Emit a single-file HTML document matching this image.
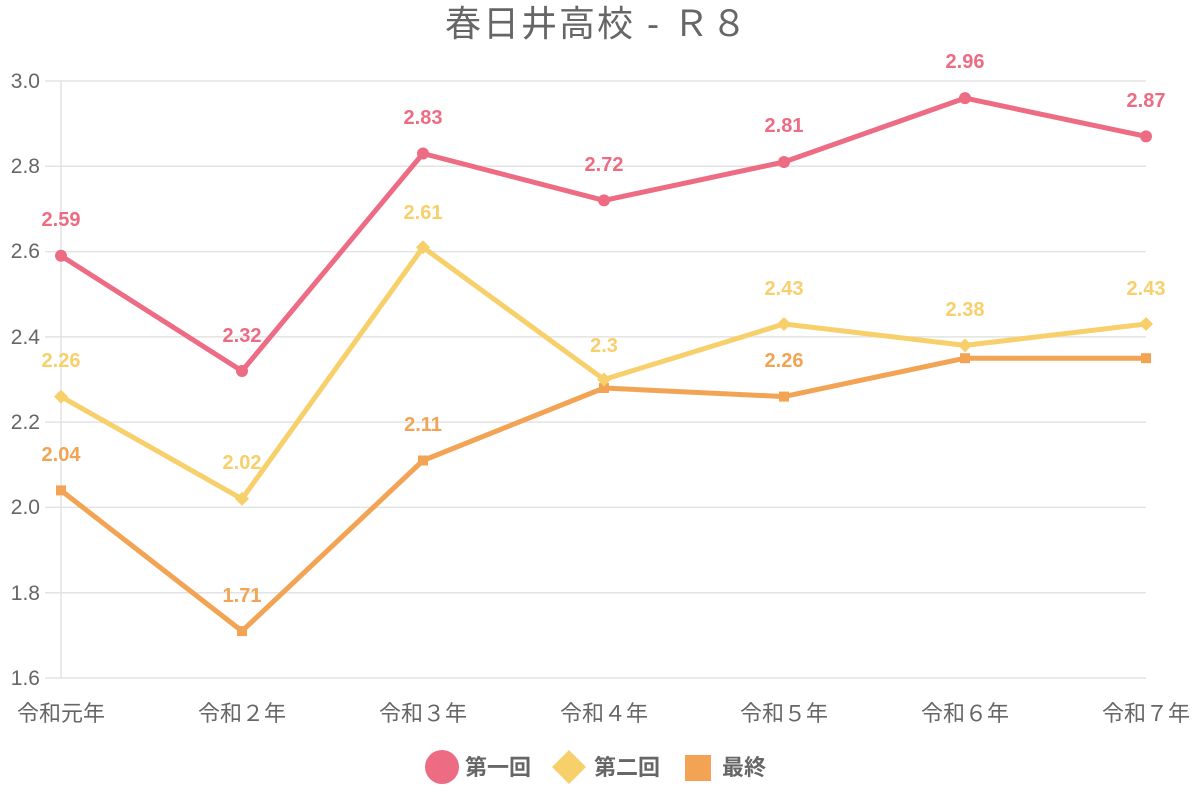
<!DOCTYPE html>
<html><head><meta charset="utf-8"><style>
body{margin:0;background:#fff}
svg{display:block;font-family:"Liberation Sans","Noto Sans CJK JP",sans-serif}
</style></head><body>
<svg width="1200" height="800" viewBox="0 0 1200 800">
<text x="597" y="36" text-anchor="middle" font-size="36" letter-spacing="2" fill="#666">春日井高校 - Ｒ８</text>
<g stroke="#e3e3e3" stroke-width="1.5">
<line x1="45" x2="1146" y1="81" y2="81"/><line x1="45" x2="1146" y1="166.3" y2="166.3"/>
<line x1="45" x2="1146" y1="251.6" y2="251.6"/><line x1="45" x2="1146" y1="336.9" y2="336.9"/>
<line x1="45" x2="1146" y1="422.1" y2="422.1"/><line x1="45" x2="1146" y1="507.4" y2="507.4"/>
<line x1="45" x2="1146" y1="592.7" y2="592.7"/><line x1="45" x2="1146" y1="678" y2="678"/>
<line x1="61" x2="61" y1="81" y2="678"/>
</g>
<g font-size="21" fill="#666" text-anchor="end">
<text x="40" y="88">3.0</text><text x="40" y="173">2.8</text><text x="40" y="258">2.6</text>
<text x="40" y="344">2.4</text><text x="40" y="429">2.2</text><text x="40" y="514">2.0</text>
<text x="40" y="600">1.8</text><text x="40" y="685">1.6</text>
</g>
<g font-size="22" fill="#666" text-anchor="middle">
<text x="61" y="721">令和元年</text><text x="242" y="721">令和２年</text><text x="423" y="721">令和３年</text>
<text x="604" y="721">令和４年</text><text x="784" y="721">令和５年</text><text x="965" y="721">令和６年</text>
<text x="1146" y="721">令和７年</text>
</g>
<g fill="none" stroke-width="5" stroke-linejoin="round">
<polyline stroke="#f2a354" points="61,490.4 242,631.1 423,460.5 604,388 784,396.6 965,358.2 1146,358.2"/>
<polyline stroke="#f7cf6b" points="61,396.6 242,498.9 423,247.3 604,379.5 784,324 965,345.4 1146,324"/>
<polyline stroke="#ee6b84" points="61,255.8 242,371 423,153.5 604,200.4 784,162 965,98.1 1146,136.4"/>
</g>
<g fill="#f2a354">
<rect x="56" y="485.4" width="10" height="10"/><rect x="237" y="626.1" width="10" height="10"/>
<rect x="418" y="455.5" width="10" height="10"/><rect x="599" y="383" width="10" height="10"/>
<rect x="779" y="391.6" width="10" height="10"/><rect x="960" y="353.2" width="10" height="10"/>
<rect x="1141" y="353.2" width="10" height="10"/>
</g>
<g fill="#f7cf6b">
<path d="M61,389.6l7,7l-7,7l-7,-7z"/><path d="M242,491.9l7,7l-7,7l-7,-7z"/>
<path d="M423,240.3l7,7l-7,7l-7,-7z"/><path d="M604,372.5l7,7l-7,7l-7,-7z"/>
<path d="M784,317l7,7l-7,7l-7,-7z"/><path d="M965,338.4l7,7l-7,7l-7,-7z"/>
<path d="M1146,317l7,7l-7,7l-7,-7z"/>
</g>
<g fill="#ee6b84">
<circle cx="61" cy="255.8" r="6"/><circle cx="242" cy="371" r="6"/><circle cx="423" cy="153.5" r="6"/>
<circle cx="604" cy="200.4" r="6"/><circle cx="784" cy="162" r="6"/><circle cx="965" cy="98.1" r="6"/>
<circle cx="1146" cy="136.4" r="6"/>
</g>
<g font-size="20" font-weight="bold" text-anchor="middle">
<g fill="#ee6b84">
<text x="61" y="226">2.59</text><text x="242" y="342">2.32</text><text x="423" y="124">2.83</text>
<text x="604" y="171">2.72</text><text x="784" y="132">2.81</text><text x="965" y="68">2.96</text>
<text x="1146" y="107">2.87</text>
</g>
<g fill="#f7cf6b">
<text x="61" y="367">2.26</text><text x="242" y="469">2.02</text><text x="423" y="219">2.61</text>
<text x="604" y="352">2.3</text><text x="784" y="295">2.43</text><text x="965" y="316">2.38</text>
<text x="1146" y="295">2.43</text>
</g>
<g fill="#f2a354">
<text x="61" y="461">2.04</text><text x="242" y="602">1.71</text><text x="423" y="431">2.11</text>
<text x="784" y="367">2.26</text>
</g>
</g>
<circle cx="442" cy="767" r="17" fill="#ee6b84"/>
<text x="465" y="775" font-size="22" font-weight="bold" fill="#666">第一回</text>
<path d="M569,750l17,17l-17,17l-17,-17z" fill="#f7cf6b"/>
<text x="594" y="775" font-size="22" font-weight="bold" fill="#666">第二回</text>
<rect x="685" y="755" width="26" height="26" fill="#f2a354"/>
<text x="722" y="775" font-size="22" font-weight="bold" fill="#666">最終</text>
</svg>
</body></html>
